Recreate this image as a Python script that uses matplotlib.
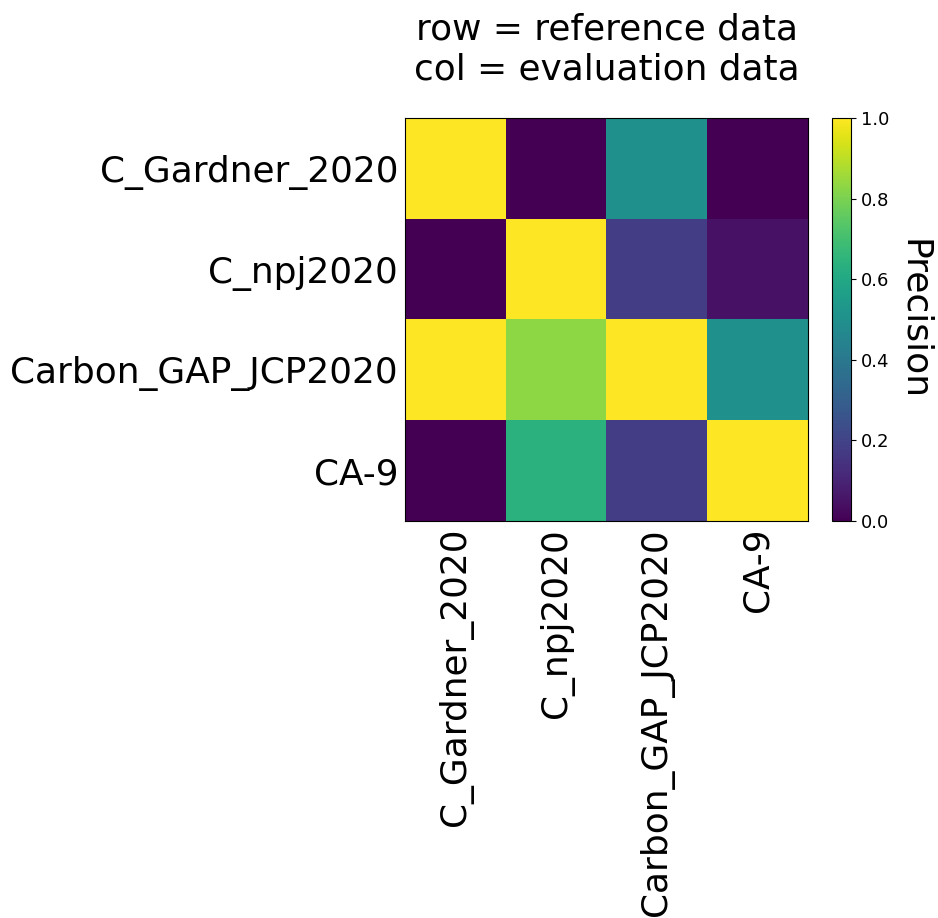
import matplotlib
matplotlib.use("Agg")
import matplotlib.pyplot as plt
import numpy as np

labels = ["C_Gardner_2020", "C_npj2020", "Carbon_GAP_JCP2020", "CA-9"]
row0 = [1.0, 0.0, 0.5, 0.0]
row1 = [0.0, 1.0, 0.18, 0.05]
row2 = [1.0, 0.83, 1.0, 0.5]
row3 = [0.0, 0.64, 0.18, 1.0]
data = np.array([row0, row1, row2, row3])

fig = plt.figure(figsize=(9.38, 9.18), dpi=100)
ax = fig.add_axes([405/938, 1-521/918, 403/938, 403/918])
im = ax.imshow(data, cmap="viridis", vmin=0, vmax=1, aspect="auto")
ax.set_xticks(range(len(labels)))
ax.set_yticks(range(len(labels)))
ax.set_xticklabels(labels, rotation=90, fontsize=25.8)
ax.set_yticklabels(labels, fontsize=25.8)
ax.tick_params(length=0, pad=5)
ax.set_title("row = reference data\ncol = evaluation data", fontsize=25.8, pad=28)

cax = fig.add_axes([832/938, 1-521/918, 19/938, 403/918])
cb = fig.colorbar(im, cax=cax)
cb.ax.tick_params(labelsize=13)
cb.set_label("Precision", rotation=270, fontsize=26, labelpad=30)

fig.savefig("out.png", dpi=100)
